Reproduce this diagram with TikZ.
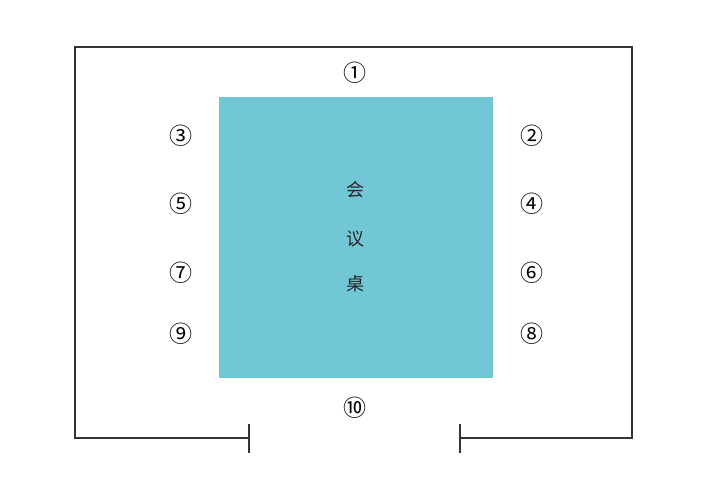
\documentclass[tikz,border=0pt]{standalone}
\usepackage{fontspec}
\newfontfamily\cjk{Noto Sans CJK SC}
\definecolor{tablec}{HTML}{71C7D6}
\definecolor{linec}{HTML}{333333}
\begin{document}
\begin{tikzpicture}[x=1pt,y=-1pt,
  wall/.style={draw=linec,line width=1.2pt},
  seat/.style={font=\cjk\fontsize{23}{23}\selectfont,inner sep=0pt,text=black},
  lab/.style={font=\cjk\fontsize{18}{18}\selectfont,inner sep=0pt,text=black!85}]
\useasboundingbox (0,0) rectangle (708,500);
\coordinate (bl) at (75,438);
\coordinate (tl) at (75,47);
\coordinate (tr) at (632,47);
\coordinate (br) at (632,438);
\coordinate (dl) at (249,438);
\coordinate (dr) at (460,438);
\coordinate (dlt) at (249,424);
\coordinate (dlb) at (249,453);
\coordinate (drt) at (460,424);
\coordinate (drb) at (460,453);
\draw[wall] (dl) -- (bl) -- (tl) -- (tr) -- (br) -- (dr);
\draw[wall] (dlt) -- (dlb);
\draw[wall] (drt) -- (drb);
\node[fill=tablec,minimum width=274pt,minimum height=281pt,inner sep=0pt] (table) at (356,237.5) {};
\node[lab] (t1) at (355,190) {会};
\node[lab] (t2) at (355,239) {议};
\node[lab] (t3) at (355,284) {桌};
\node[seat] (s1) at (355,73) {①};
\node[seat] (s2) at (532,136) {②};
\node[seat] (s3) at (181,136) {③};
\node[seat] (s4) at (532,204) {④};
\node[seat] (s5) at (181,204) {⑤};
\node[seat] (s6) at (532,273) {⑥};
\node[seat] (s7) at (181,273) {⑦};
\node[seat] (s8) at (532,334) {⑧};
\node[seat] (s9) at (181,334) {⑨};
\node[seat] (s10) at (355,408) {⑩};
\end{tikzpicture}
\end{document}
